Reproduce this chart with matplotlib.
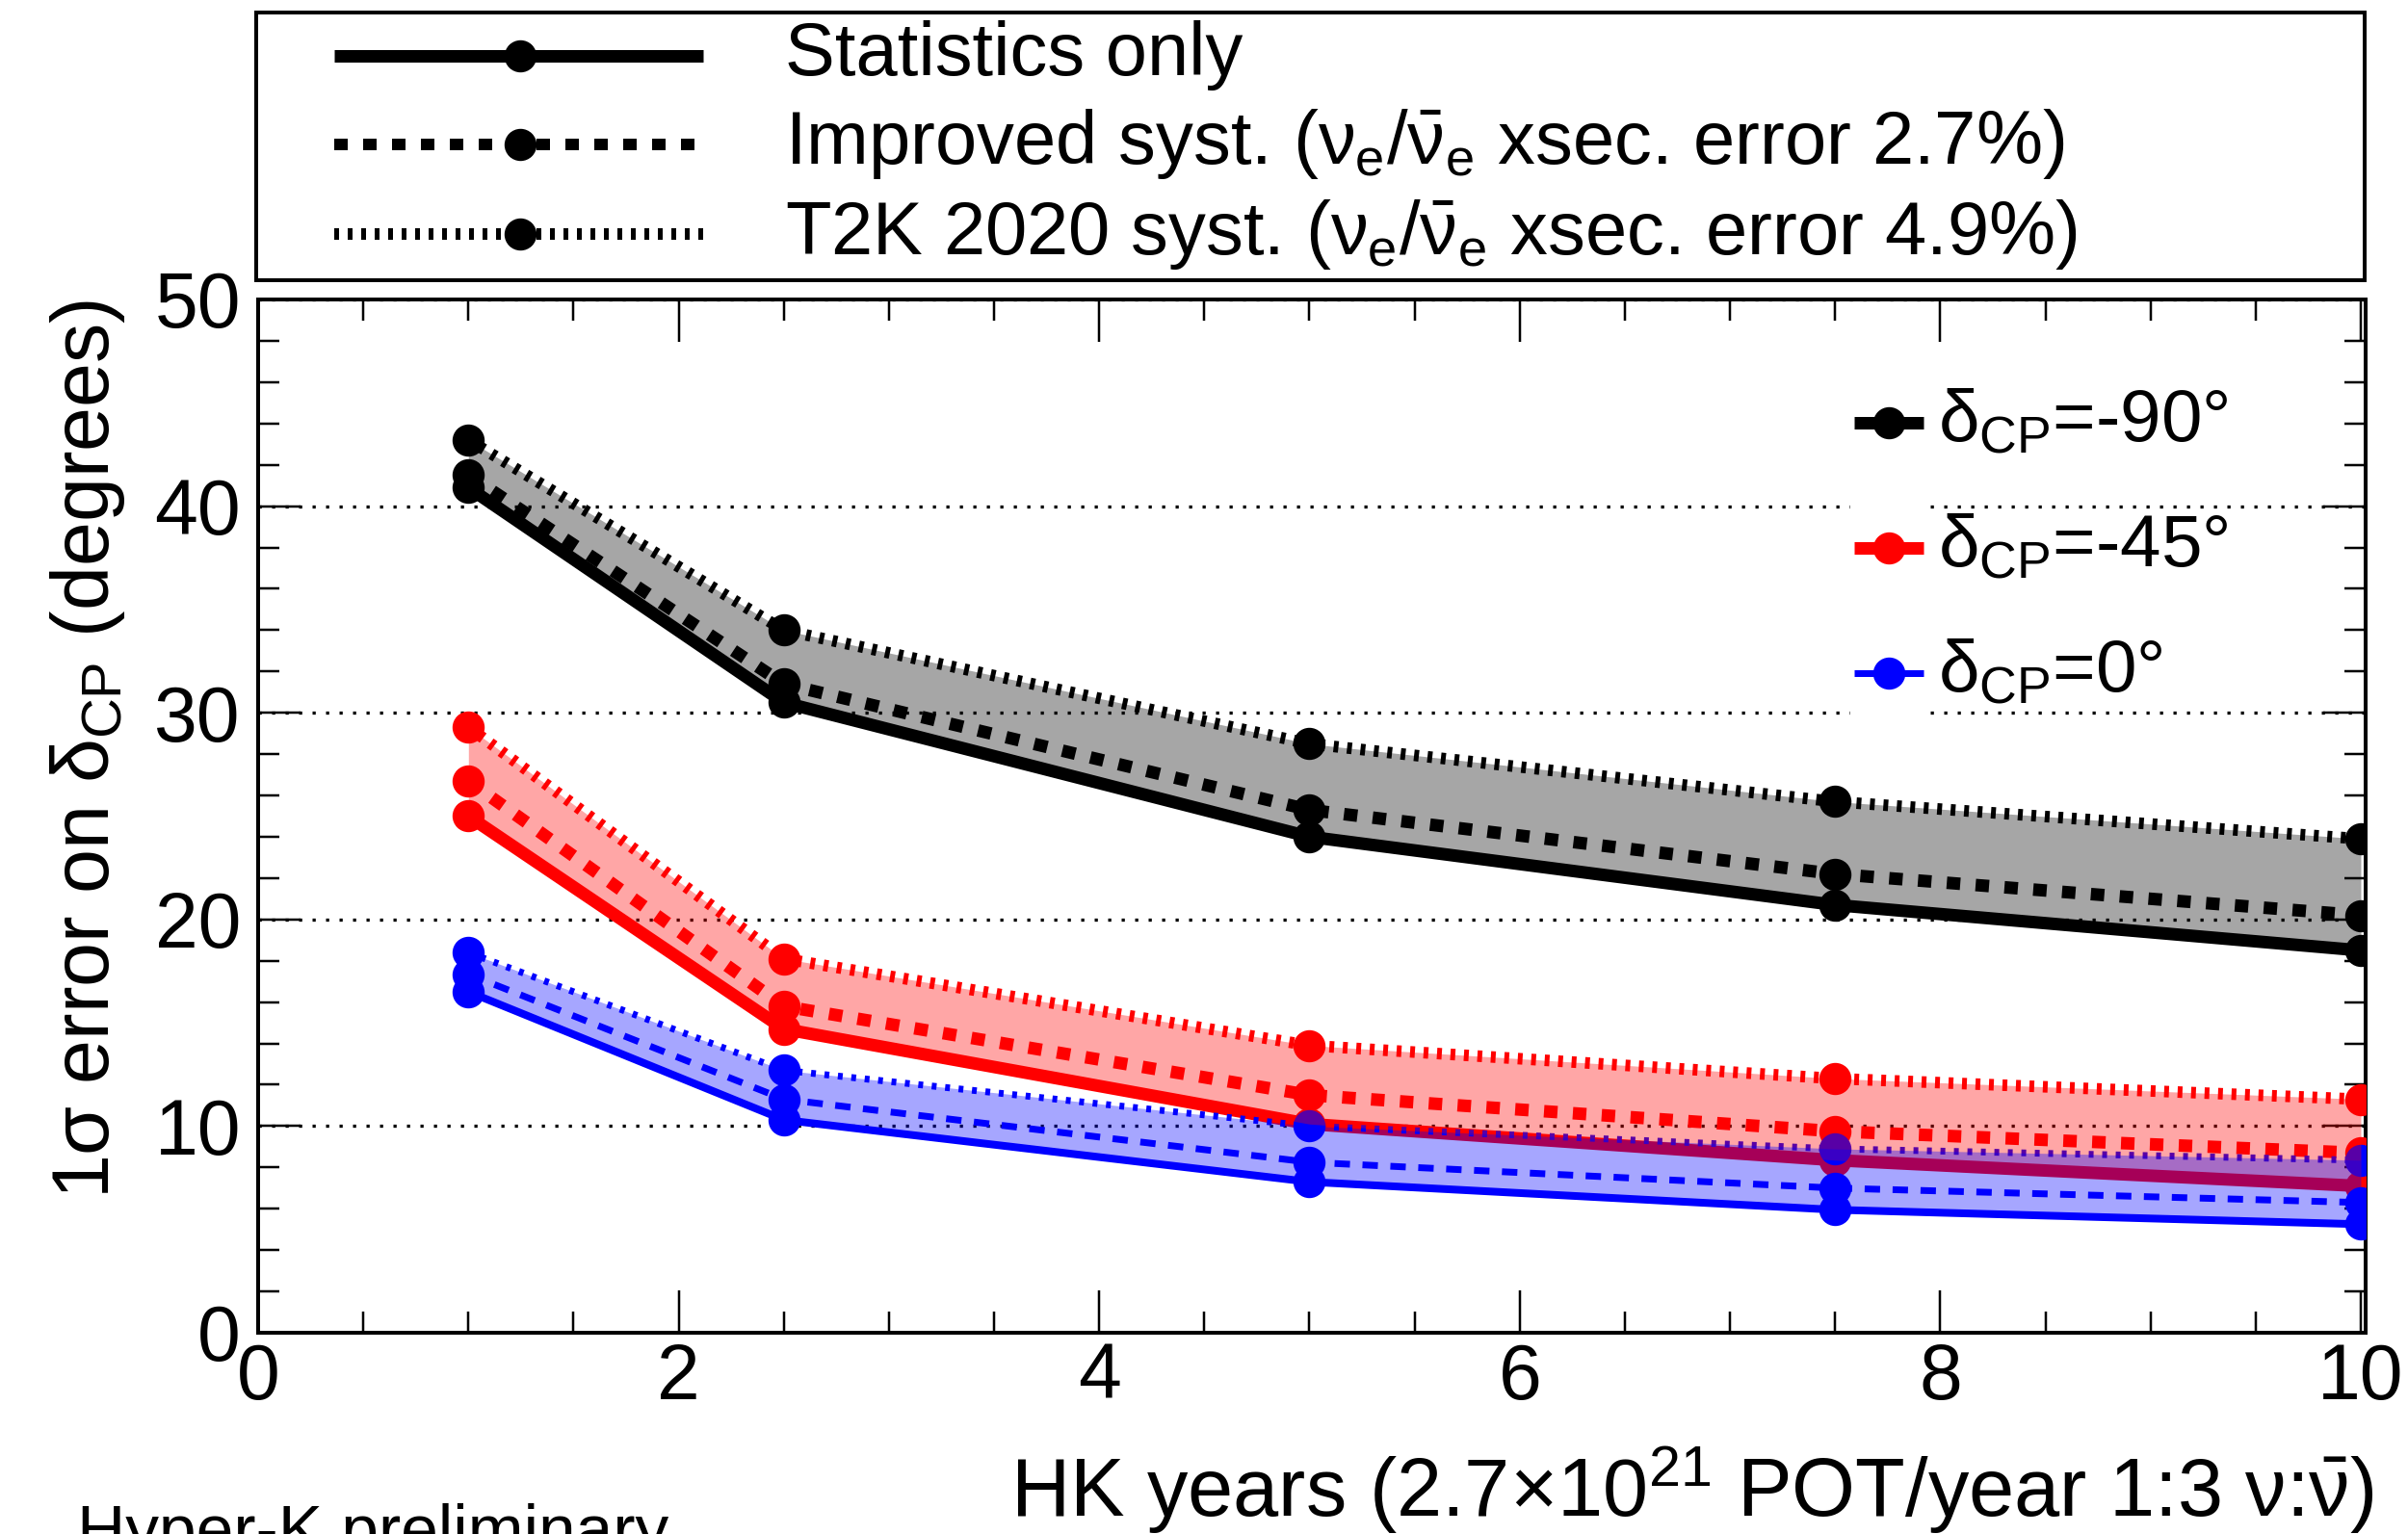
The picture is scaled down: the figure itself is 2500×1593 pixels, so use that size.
import matplotlib
matplotlib.use("Agg")
import matplotlib.pyplot as plt
from matplotlib.lines import Line2D
from matplotlib.patches import Rectangle
from matplotlib.ticker import MultipleLocator

plt.rcParams['font.family'] = ['Liberation Sans', 'DejaVu Sans']
plt.rcParams['mathtext.fontset'] = 'custom'
plt.rcParams['mathtext.rm'] = 'Liberation Sans'
plt.rcParams['mathtext.it'] = 'Liberation Sans'
plt.rcParams['mathtext.bf'] = 'Liberation Sans:bold'
plt.rcParams['mathtext.fallback'] = 'stixsans'
plt.rcParams['lines.scale_dashes'] = False

# ---------------- data ----------------
years = [1, 2.5, 5, 7.5, 10]

stat_m90 = [40.9, 30.5, 24.0, 20.7, 18.5]
impr_m90 = [41.5, 31.4, 25.3, 22.2, 20.2]
t2k_m90 = [43.2, 34.0, 28.5, 25.7, 23.9]

stat_m45 = [25.0, 14.7, 10.1, 8.35, 7.1]
impr_m45 = [26.7, 15.8, 11.5, 9.75, 8.7]
t2k_m45 = [29.3, 18.1, 13.9, 12.3, 11.3]

stat_0 = [16.5, 10.3, 7.3, 5.95, 5.25]
impr_0 = [17.35, 11.3, 8.25, 7.0, 6.3]
t2k_0 = [18.4, 12.7, 10.0, 8.9, 8.35]

case_labels = [r"$\delta_{CP}$=-90°", r"$\delta_{CP}$=-45°", r"$\delta_{CP}$=0°"]
case_colors = ['black', 'red', 'blue']
syst_labels = ["Statistics only",
               r"Improved syst. ($\nu_{e}$/$\bar{\nu}_{e}$ xsec. error 2.7%)",
               r"T2K 2020 syst. ($\nu_{e}$/$\bar{\nu}_{e}$ xsec. error 4.9%)"]

xlabel = r"HK years (2.7$\times$10$^{21}$ POT/year 1:3 $\nu$:$\bar{\nu}$)"
ylabel = r"1$\sigma$ error on $\delta_{CP}$ (degrees)"
xticks = [0, 2, 4, 6, 8, 10]
yticks = [0, 10, 20, 30, 40, 50]

# ---------------- styles ----------------
PT = 0.72  # px -> pt at dpi 100
thick = dict(stat=13 * PT, impr=13 * PT, t2k=12 * PT)
thin = dict(stat=8 * PT, impr=7 * PT, t2k=7 * PT)
dash_impr = (0, (14 * PT, 16 * PT))
dash_impr_thin = (0, (16 * PT, 13 * PT))
dash_t2k = (0, (5 * PT, 9 * PT))
msize = 32 * PT

fig = plt.figure(figsize=(25, 15.93), dpi=100)
W, H = 2500, 1593
ax = fig.add_axes([268 / W, 1 - 1384 / H, (2456 - 268) / W, (1384 - 311) / H])

groups = [
    (stat_m90, impr_m90, t2k_m90, 'black', thick),
    (stat_m45, impr_m45, t2k_m45, 'red', thick),
    (stat_0, impr_0, t2k_0, 'blue', thin),
]

for stat, impr, t2k, col, lw in groups:
    ls_impr = dash_impr if lw is thick else dash_impr_thin
    ax.plot(years, stat, color=col, lw=lw['stat'], ls='-', marker='o',
            ms=msize, zorder=3, solid_capstyle='butt')
    ax.plot(years, impr, color=col, lw=lw['impr'], ls=ls_impr, marker='o',
            ms=msize, zorder=3, dash_capstyle='butt')
    ax.plot(years, t2k, color=col, lw=lw['t2k'], ls=dash_t2k, marker='o',
            ms=msize, zorder=3, dash_capstyle='butt')
for stat, impr, t2k, col, lw in groups:
    ax.fill_between(years, stat, t2k, color=col, alpha=0.35, lw=0, zorder=4)

ax.set_xlim(0, 10.023)
ax.set_ylim(0, 50)
ax.xaxis.set_major_locator(MultipleLocator(2))
ax.xaxis.set_minor_locator(MultipleLocator(0.5))
ax.yaxis.set_major_locator(MultipleLocator(10))
ax.yaxis.set_minor_locator(MultipleLocator(2))
ax.set_xticks(xticks)
ax.set_yticks(yticks)
ax.set_xticklabels([str(t) for t in xticks])
ax.set_yticklabels([str(t) for t in yticks])

ax.tick_params(which='both', direction='in', top=True, right=True,
               width=2.5 * PT, color='black')
ax.tick_params(which='major', length=44 * PT, labelsize=58, pad=7)
ax.tick_params(which='minor', length=22 * PT)
ax.tick_params(axis='y', which='major', pad=13)
for sp in ax.spines.values():
    sp.set_linewidth(4 * PT)

ax.grid(axis='y', which='major', color='black', lw=3.3 * PT,
        ls=(0, (3.3 * PT, 10.7 * PT)), zorder=0)
ax.set_axisbelow(True)

ax.set_xlabel(xlabel, fontsize=61, loc='right')
ax.xaxis.set_label_coords(1.004, -0.108)
ax.set_ylabel(ylabel, fontsize=59.5, loc='top')
ax.yaxis.set_label_coords(-0.062, 1.0)

# ---------------- right legend (delta_CP cases) ----------------
def ax_x(px):
    return (px - 268) / (2456 - 268)

def ax_y(py):
    return (1384 - py) / (1384 - 311)

ax.add_patch(Rectangle((ax_x(1921), ax_y(765)), ax_x(2004) - ax_x(1921),
                       ax_y(385) - ax_y(765), transform=ax.transAxes,
                       facecolor='white', edgecolor='none', zorder=1))
case_lw = [13 * PT, 13 * PT, 7 * PT]
case_y = [439, 569, 699]
for lab, col, lwc, yy in zip(case_labels, case_colors, case_lw, case_y):
    ln = Line2D([ax_x(1925), ax_x(1961), ax_x(1997)], [ax_y(yy)] * 3,
                transform=ax.transAxes, color=col, lw=lwc, marker='o',
                ms=msize, markevery=[1], solid_capstyle='butt', zorder=5)
    ax.add_line(ln)
    ax.text(ax_x(2012), ax_y(yy), lab, transform=ax.transAxes, fontsize=55,
            ha='left', va='center', zorder=5)

# ---------------- top legend (systematics) ----------------
fig.add_artist(Rectangle((266 / W, 1 - 291 / H), (2455 - 266) / W,
                         (291 - 13) / H, transform=fig.transFigure,
                         facecolor='white', edgecolor='black', lw=4 * PT))
syst_ls = ['-', dash_impr, dash_t2k]
syst_lw = [13 * PT, 12 * PT, 12 * PT]
syst_y = [58, 150, 243]
for lab, ls, lwc, yy in zip(syst_labels, syst_ls, syst_lw, syst_y):
    ln = Line2D([347 / W, 540 / W, 730 / W], [1 - yy / H] * 3,
                transform=fig.transFigure, color='black', lw=lwc, ls=ls,
                marker='o', ms=msize, markevery=[1], solid_capstyle='butt',
                dash_capstyle='butt')
    fig.add_artist(ln)
    fig.text(815 / W, 1 - yy / H, lab, fontsize=56, ha='left', va='center')

fig.text(80 / W, 1 - 1611 / H, "Hyper-K preliminary", fontsize=50,
         ha='left', va='baseline')

fig.savefig("out.png", dpi=100)
